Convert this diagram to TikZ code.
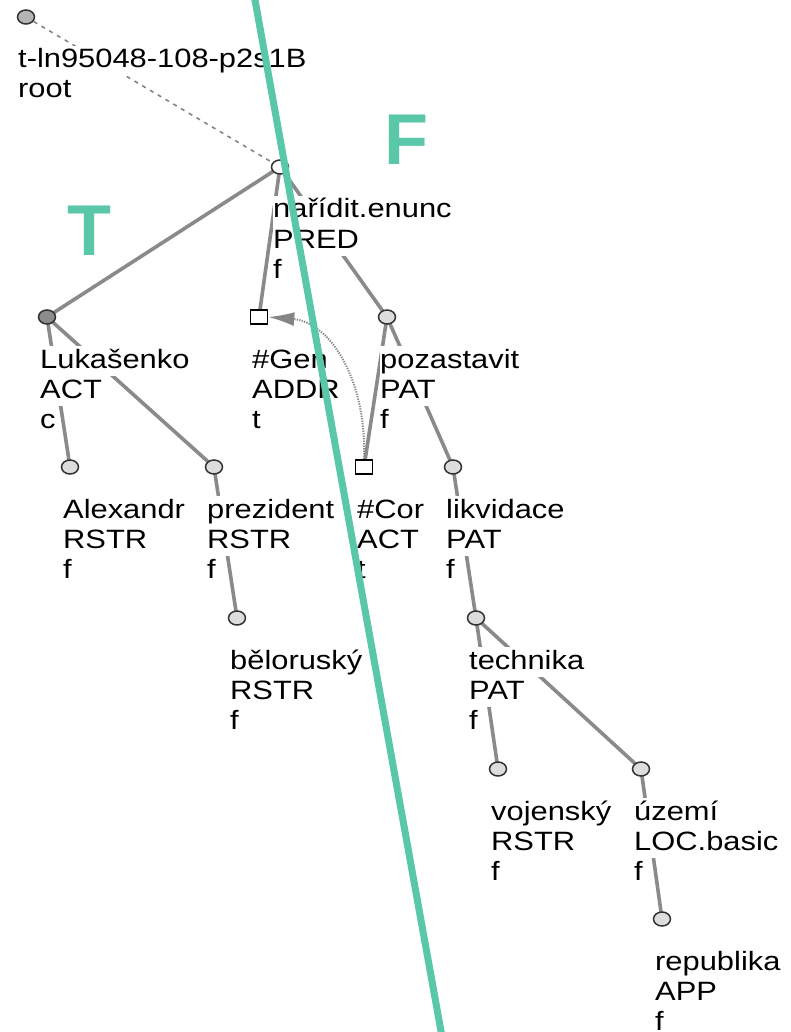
\documentclass[tikz,border=0pt]{standalone}
\usepackage{fontspec}
\setmainfont{Liberation Sans}[FakeStretch=1.165]
\newfontfamily\markfont{Liberation Sans}
\usetikzlibrary{arrows.meta,shapes.geometric}
\pgfdeclarelayer{background}
\pgfdeclarelayer{front}
\pgfsetlayers{background,main,front}

\definecolor{edgegray}{HTML}{8A8A8A}
\definecolor{dotgray}{HTML}{858585}
\definecolor{rimgray}{HTML}{333333}
\definecolor{lightfill}{HTML}{DDDDDD}
\definecolor{midfill}{HTML}{B4B4B4}
\definecolor{darkfill}{HTML}{8C8C8C}
\definecolor{mint}{HTML}{5AC8A8}

\tikzset{
  tnode/.style={ellipse, minimum width=17pt, minimum height=14pt, inner sep=0pt,
    draw=rimgray, line width=1.5pt, fill=lightfill},
  gnode/.style={rectangle, minimum width=17pt, minimum height=14pt, inner sep=0pt,
    draw=black, line width=1.5pt, fill=white},
  lab/.style={anchor=base west, fill=white, inner xsep=0pt, inner ysep=1pt,
    text height=21pt, text depth=7pt, text=black,
    font=\fontsize{26.5}{30}\selectfont},
  edge/.style={draw=edgegray, line width=3.6pt},
  rootlink/.style={draw=dotgray, line width=1.6pt, dash pattern=on 4pt off 5pt},
  corefarrow/.style={draw=dotgray, line width=2pt, dash pattern=on 1.2pt off 1.3pt,
    -{Latex[length=26pt,width=14pt]}},
  bigmark/.style={anchor=base, text=mint, inner sep=0pt,
    font=\markfont\bfseries\fontsize{72}{72}\selectfont},
  splitline/.style={draw=mint, line width=7pt},
}

% three-line label: name, node x, node y, lemma, functor, tfa
\newcommand\tlab[6]{%
  \node[lab] (#1a) at (#2-7,#3+51) {#4};
  \node[lab] (#1b) at (#2-7,#3+81) {#5};
  \node[lab] (#1c) at (#2-7,#3+111) {#6};
}

\begin{document}
\begin{tikzpicture}[x=1pt,y=-1pt]
\useasboundingbox (0,0) rectangle (790,1032);

% tree nodes
\node[tnode, fill=midfill] (root) at (26,17) {};
\node[tnode, fill=white]   (nar)  at (280,167) {};
\node[tnode, fill=darkfill] (luk) at (47,317) {};
\node[gnode] (gen) at (259,317) {};
\node[tnode] (poz) at (387,317) {};
\node[tnode] (ale) at (70,467) {};
\node[tnode] (pre) at (214,467) {};
\node[gnode] (cor) at (364,467) {};
\node[tnode] (lik) at (453,467) {};
\node[tnode] (bel) at (237,618) {};
\node[tnode] (tec) at (476,618) {};
\node[tnode] (voj) at (498,769) {};
\node[tnode] (uze) at (641,769) {};
\node[tnode] (rep) at (662,919) {};

% labels
\node[lab] (rootA) at (18,68) {t-ln95048-108-p2s1B};
\node[lab] (rootB) at (18,98) {root};
\tlab{nar}{280}{167}{nařídit.enunc}{PRED}{f}
\tlab{luk}{47}{317}{Lukašenko}{ACT}{c}
\tlab{gen}{259}{317}{\#Gen}{ADDR}{t}
\tlab{poz}{387}{317}{pozastavit}{PAT}{f}
\tlab{ale}{70}{467}{Alexandr}{RSTR}{f}
\tlab{pre}{214}{467}{prezident}{RSTR}{f}
\tlab{cor}{364}{467}{\#Cor}{ACT}{t}
\tlab{lik}{453}{467}{likvidace}{PAT}{f}
\tlab{bel}{237}{618}{běloruský}{RSTR}{f}
\tlab{tec}{476}{618}{technika}{PAT}{f}
\tlab{voj}{498}{769}{vojenský}{RSTR}{f}
\tlab{uze}{641}{769}{území}{LOC.basic}{f}
\tlab{rep}{662}{919}{republika}{APP}{f}

% page ground and dependency edges, behind the labels
\begin{pgfonlayer}{background}
  \fill[white] (0,0) rectangle (790,1032);
  \draw[rootlink] (root.center) -- (nar.center);
  \draw[edge] (nar.center) -- (luk.center);
  \draw[edge] (nar.center) -- (gen.center);
  \draw[edge] (nar.center) -- (poz.center);
  \draw[edge] (luk.center) -- (ale.center);
  \draw[edge] (luk.center) -- (pre.center);
  \draw[edge] (pre.center) -- (bel.center);
  \draw[edge] (poz.center) -- (cor.center);
  \draw[edge] (poz.center) -- (lik.center);
  \draw[edge] (lik.center) -- (tec.center);
  \draw[edge] (tec.center) -- (voj.center);
  \draw[edge] (tec.center) -- (uze.center);
  \draw[edge] (uze.center) -- (rep.center);
  % coreference arrow
  \draw[corefarrow] (cor.north) .. controls (367,380) and (330,322) .. (gen.east);
\end{pgfonlayer}

% topic-focus boundary
\begin{pgfonlayer}{front}
  \coordinate (splitTop) at (253.2,-10);
  \coordinate (splitBot) at (443.5,1045);
  \draw[splitline] (splitTop) -- (splitBot);
  \node[bigmark] (topicT) at (89,255) {T};
  \node[bigmark] (focusF) at (406,165) {F};
\end{pgfonlayer}
\end{tikzpicture}
\end{document}
